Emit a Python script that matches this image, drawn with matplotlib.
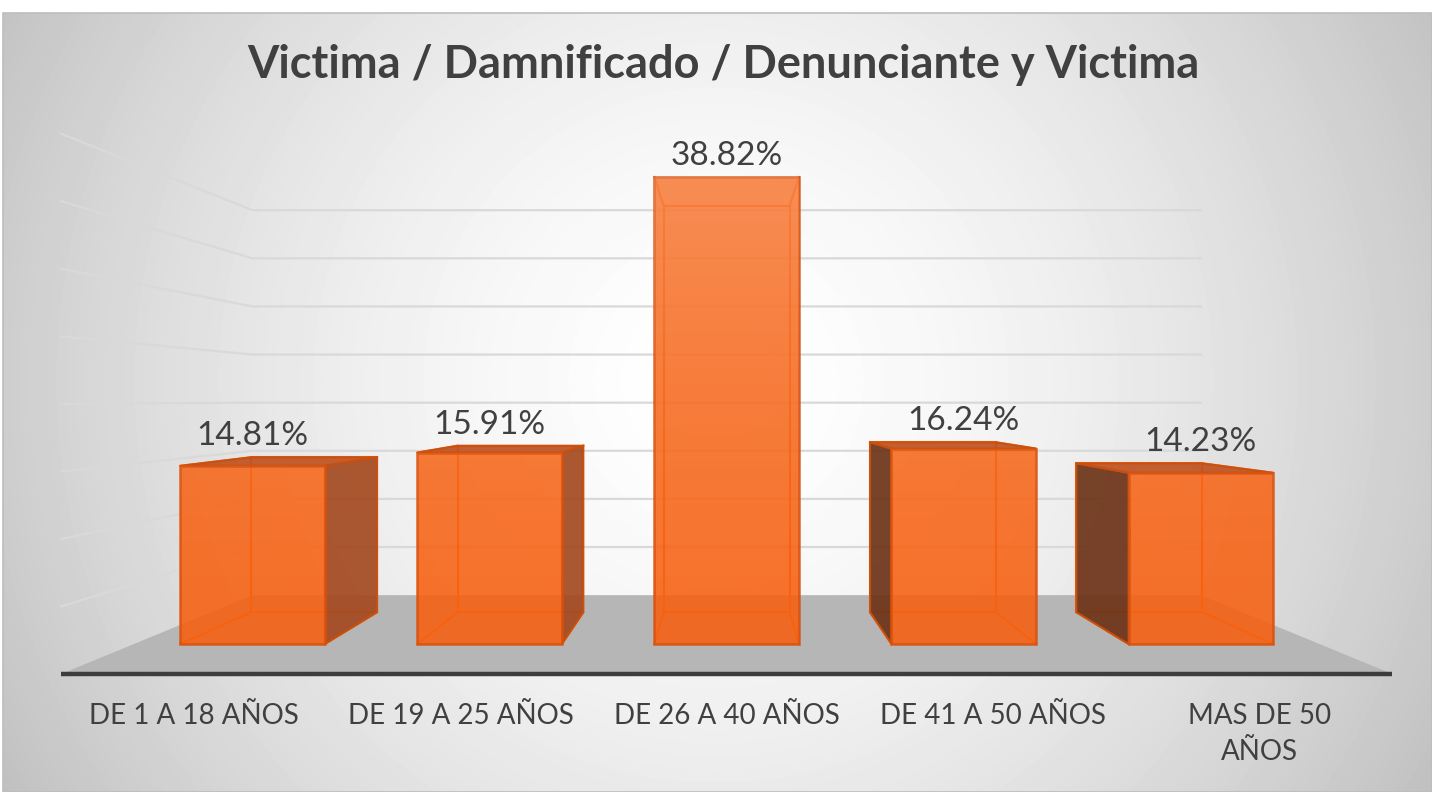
"""Grafico de barras 3D (estilo Excel) - Victima / Damnificado / Denunciante y Victima.

La perspectiva se arma a mano sobre un eje 2D: cada cara de la barra se
proyecta hacia un punto de fuga escalando por una profundidad 's'.
Salida: out.png
"""

import matplotlib
matplotlib.use("Agg")
import matplotlib.pyplot as plt
import numpy as np
from matplotlib.patches import Polygon, Rectangle


categorias = ["DE 1 A 18 AÑOS", "DE 19 A 25 AÑOS", "DE 26 A 40 AÑOS",
              "DE 41 A 50 AÑOS", "MAS DE 50\nAÑOS"]
porcentajes = [14.81, 15.91, 38.82, 16.24, 14.23]
etiquetas = ["14.81%", "15.91%", "38.82%", "16.24%", "14.23%"]
grid_vals = [5, 10, 15, 20, 25, 30, 35, 40]
titulo = "Victima / Damnificado / Denunciante y Victima"

# --- perspectiva ---
VP = (2.0, 20.3)      # punto de fuga en unidades de datos
S_FLOOR = 1.123       # borde frontal del piso
S_BACK = 0.87         # cara trasera de las barras
S_WALL = 0.80         # pared del fondo
ANCHO = 0.61

# escala pixel <-> datos (1432x792 a 100 dpi)
PX_X, X0_PX = 237.1, 252.5
PX_Y, Y0_PX = 12.03, 644.0


def px2x(px):
    return (px - X0_PX) / PX_X


def px2y(py):
    return (Y0_PX - py) / PX_Y


def proj(x, y, s):
    return VP[0] + s * (x - VP[0]), VP[1] + s * (y - VP[1])


def main() -> None:
    fig = plt.figure(figsize=(14.32, 7.92), dpi=100)
    fig.patch.set_facecolor("white")
    ax = fig.add_axes([0, 0, 1, 1])
    ax.set_xlim(px2x(0), px2x(1432))
    ax.set_ylim(px2y(792), px2y(0))
    ax.axis("off")

    # fondo con degradado radial
    W, H = 1429, 779
    xx, yy = np.meshgrid(np.arange(W) + 3, np.arange(H) + 13)
    d = np.hypot(xx - 716, yy - 380)
    lum = (255 - 50 * (d / 716) ** 1.6) / 255
    ax.imshow(lum, cmap="gray", vmin=0, vmax=1, aspect="auto",
              extent=(px2x(3), px2x(1432), px2y(792), px2y(13)),
              interpolation="bilinear", zorder=0)
    ax.add_patch(Rectangle((px2x(3), px2y(792)), px2x(1432) - px2x(3),
                           px2y(13) - px2y(792), fill=False,
                           edgecolor="#bdbdbd", lw=1.2, zorder=1))

    n = len(porcentajes)
    lo, hi = -0.5, n - 0.5

    # piso
    piso = [proj(lo, 0, S_WALL), proj(hi, 0, S_WALL),
            proj(hi, 0, S_FLOOR), proj(lo, 0, S_FLOOR)]
    ax.add_patch(Polygon(piso, closed=True, facecolor="#b6b6b6",
                         edgecolor="none", zorder=2))
    (ax0, ay0), (ax1, ay1) = proj(lo, 0, S_FLOOR), proj(hi, 0, S_FLOOR)
    ax.plot([ax0, ax1], [ay0, ay1], color="#3d3d3d", lw=3.2,
            solid_capstyle="butt", zorder=3)

    # lineas de division: pared del fondo y pared izquierda
    for v in grid_vals:
        p0, p1 = proj(lo, v, S_WALL), proj(hi, v, S_WALL)
        p2 = proj(lo, v, S_FLOOR)
        ax.plot([p2[0], p0[0], p1[0]], [p2[1], p0[1], p1[1]],
                color="#d9d9d9", lw=1.6, zorder=2)

    # barras
    xs = np.arange(n)
    for x, v in zip(xs, porcentajes):
        xl, xr = x - ANCHO / 2, x + ANCHO / 2
        # aristas ocultas (se ven a traves de la cara frontal)
        back = [proj(xl, 0, S_BACK), proj(xr, 0, S_BACK),
                proj(xr, v, S_BACK), proj(xl, v, S_BACK)]
        ax.add_patch(Polygon(back, closed=True, fill=False,
                             edgecolor="#ff6a10", lw=1.5, zorder=4))
        for cx, cy in [(xl, 0), (xr, 0), (xr, v), (xl, v)]:
            b = proj(cx, cy, S_BACK)
            ax.plot([cx, b[0]], [cy, b[1]], color="#ff6a10", lw=1.5, zorder=4)

        # caras laterales visibles
        if xr < VP[0]:
            cara = [(xr, 0), (xr, v), proj(xr, v, S_BACK), proj(xr, 0, S_BACK)]
            ax.add_patch(Polygon(cara, closed=True, facecolor="#a44a20",
                                 alpha=0.92, edgecolor="#c9500f", lw=1.5, zorder=5))
        if xl > VP[0]:
            cara = [(xl, 0), (xl, v), proj(xl, v, S_BACK), proj(xl, 0, S_BACK)]
            ax.add_patch(Polygon(cara, closed=True, facecolor="#6c3317",
                                 alpha=0.92, edgecolor="#c9500f", lw=1.5, zorder=5))
        if v < VP[1]:
            tapa = [(xl, v), (xr, v), proj(xr, v, S_BACK), proj(xl, v, S_BACK)]
            ax.add_patch(Polygon(tapa, closed=True, facecolor="#bf5220",
                                 alpha=0.92, edgecolor="#c9500f", lw=1.5, zorder=5))

    bars = ax.bar(xs, porcentajes, width=ANCHO, color="#f66010", alpha=0.88,
                  edgecolor="#d9500c", linewidth=1.8, zorder=6)
    # brillo suave hacia arriba
    grad = np.linspace(0, 1, 100)[:, None] ** 1.6
    for b in bars:
        im = ax.imshow(np.dstack([np.ones((100, 1, 3)), 0.2 * grad]),
                       extent=(px2x(0), px2x(1432), 0, 40), origin="lower",
                       aspect="auto", zorder=6.5)
        im.set_clip_path(b)

    # etiquetas de datos
    for x, v, t in zip(xs, porcentajes, etiquetas):
        top = max(v, proj(x, v, S_BACK)[1])
        ax.text(x, top + 1.75, t, ha="center", va="center", fontsize=24,
                family="Lato", color="#404040", zorder=8)

    # etiquetas del eje
    for x, c in zip(xs, categorias):
        tx = proj(x, 0, S_FLOOR)[0]
        ax.text(tx, px2y(703), c, ha="center", va="top", fontsize=20,
                family="Lato", color="#404040", linespacing=1.5, zorder=8)

    ax.text(px2x(723), px2y(65), titulo, ha="center", va="center",
            fontsize=32.5, fontweight="bold", family="Lato", color="#404040",
            zorder=8)

    fig.savefig("out.png", dpi=100, facecolor="white")


if __name__ == "__main__":
    main()
